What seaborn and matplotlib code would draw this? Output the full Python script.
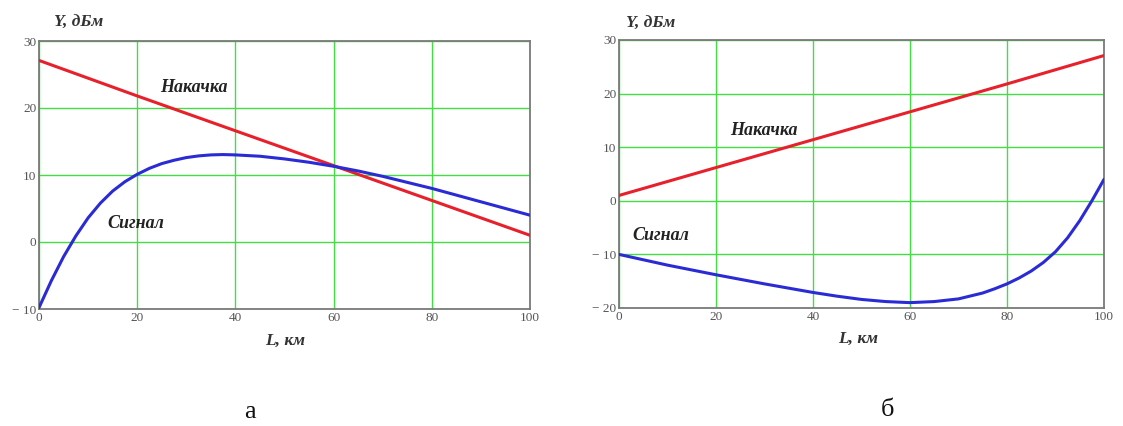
import numpy as np
import pandas as pd
import matplotlib
matplotlib.use("Agg")
import matplotlib.pyplot as plt
import seaborn as sns

# ---- data ----
L_a = [0, 2.5, 5, 7.5, 10, 12.5, 15, 17.5, 20, 22.5, 25, 27.5, 30, 32.5, 35, 37.5, 40,
       45, 50, 55, 60, 65, 70, 75, 80, 85, 90, 95, 100]
signal_a = [-9.8, -5.8, -2.2, 0.9, 3.6, 5.8, 7.6, 9.0, 10.1, 11.0, 11.7, 12.2, 12.6, 12.85, 13.0, 13.05, 13.0,
            12.8, 12.4, 11.9, 11.3, 10.6, 9.8, 8.9, 8.0, 7.0, 6.0, 5.0, 4.0]
L_pump = [0, 20, 40, 60, 80, 100]
pump_a = [27.1, 21.8, 16.6, 11.4, 6.2, 1.0]

L_b = [0, 10, 20, 30, 40, 45, 50, 55, 60, 65, 70, 75, 77.5, 80, 82.5, 85, 87.5, 90, 92.5, 95, 97.5, 100]
signal_b = [-10.0, -12.0, -13.8, -15.5, -17.1, -17.8, -18.4, -18.8, -19.0, -18.8, -18.3, -17.2, -16.4,
            -15.5, -14.4, -13.1, -11.5, -9.5, -6.9, -3.7, 0.0, 4.0]
pump_b = [1.0, 6.2, 11.4, 16.6, 21.8, 27.1]

x_ticks = [0, 20, 40, 60, 80, 100]
y_ticks_a = [-10, 0, 10, 20, 30]
y_ticks_b = [-20, -10, 0, 10, 20, 30]

sns.set_style("white")
plt.rcParams['font.family'] = ['Liberation Serif', 'DejaVu Serif']

W, H = 1123, 426
fig = plt.figure(figsize=(W / 100, H / 100), dpi=100)
ax1 = fig.add_axes([39 / W, 1 - 309 / H, (530 - 39) / W, (309 - 41) / H])
ax2 = fig.add_axes([619 / W, 1 - 308 / H, (1104 - 619) / W, (308 - 40) / H])

RED = "#e8202c"
BLUE = "#2b2bd6"
GRID = "#44dd44"
FRAME = "#7a7a7a"
TXT = "#555555"

def style(ax, yticks, ylim):
    ax.set_xlim(0, 100)
    ax.set_ylim(*ylim)
    ax.set_xticks(x_ticks)
    ax.set_yticks(yticks)
    ax.set_xticklabels([str(v) for v in x_ticks])
    ax.set_yticklabels([("\u2212 " + str(-v)) if v < 0 else str(v) for v in yticks])
    ax.grid(True, color=GRID, linewidth=1.0)
    ax.set_axisbelow(True)
    for s in ax.spines.values():
        s.set_color(FRAME)
        s.set_linewidth(1.3)
    ax.tick_params(axis='both', length=0, labelsize=9.5, colors=TXT, pad=2)
    ax.set_xlabel("")
    ax.set_ylabel("")

df_a_sig = pd.DataFrame({"L": L_a, "Y": signal_a})
df_a_pump = pd.DataFrame({"L": L_pump, "Y": pump_a})
df_b_sig = pd.DataFrame({"L": L_b, "Y": signal_b})
df_b_pump = pd.DataFrame({"L": L_pump, "Y": pump_b})

sns.lineplot(data=df_a_pump, x="L", y="Y", ax=ax1, color=RED, linewidth=2.2, zorder=3)
sns.lineplot(data=df_a_sig, x="L", y="Y", ax=ax1, color=BLUE, linewidth=2.2, zorder=4)
sns.lineplot(data=df_b_pump, x="L", y="Y", ax=ax2, color=RED, linewidth=2.2, zorder=3)
sns.lineplot(data=df_b_sig, x="L", y="Y", ax=ax2, color=BLUE, linewidth=2.2, zorder=4)

style(ax1, y_ticks_a, (-10, 30))
style(ax2, y_ticks_b, (-20, 30))

lab = dict(fontsize=13, fontweight='bold', fontstyle='italic', color="#222222")
ax1.text(31.6, 23.1, "Накачка", ha='center', va='center', **lab)
ax1.text(19.7, 2.8, "Сигнал", ha='center', va='center', **lab)
ax2.text(29.9, 13.1, "Накачка", ha='center', va='center', **lab)
ax2.text(8.6, -6.5, "Сигнал", ha='center', va='center', **lab)

axlab = dict(fontsize=12.5, fontweight='bold', fontstyle='italic', color="#333333")
fig.text(79 / W, 1 - 23 / H, "Y, дБм", ha='center', va='center', **axlab)
fig.text(651 / W, 1 - 24 / H, "Y, дБм", ha='center', va='center', **axlab)
fig.text(285 / W, 1 - 341 / H, "L, км", ha='center', va='center', **axlab)
fig.text(858 / W, 1 - 339 / H, "L, км", ha='center', va='center', **axlab)

fig.text(250 / W, 1 - 412 / H, "а", ha='center', va='center', fontsize=19, color="#111111")
fig.text(887 / W, 1 - 410 / H, "б", ha='center', va='center', fontsize=19, color="#111111")

fig.savefig("out.png", dpi=100, facecolor="white")
